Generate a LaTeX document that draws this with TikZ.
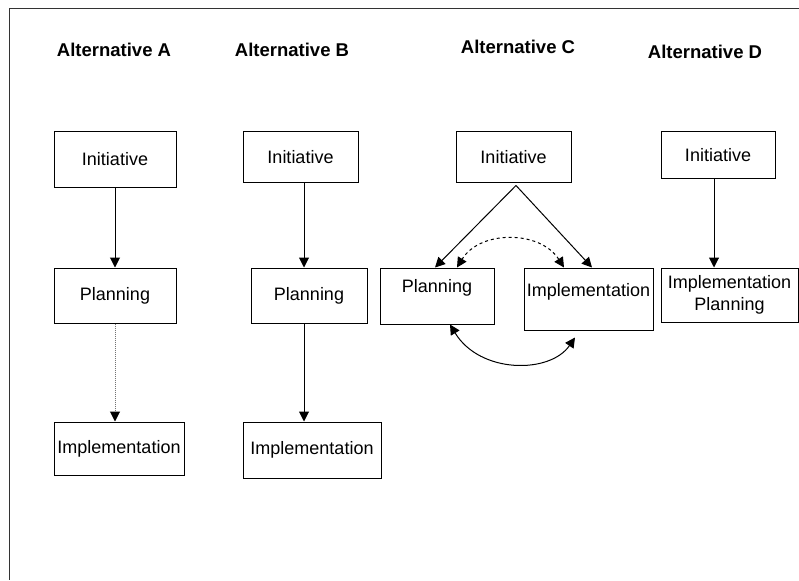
\documentclass[tikz,border=0pt]{standalone}
\usepackage{fontspec}
\setmainfont{Liberation Sans}
\usetikzlibrary{arrows.meta}
\begin{document}
\begin{tikzpicture}[x=1pt,y=-1pt,line width=1pt,
  every node/.style={font=\fontsize{18}{22}\selectfont},
  title/.style={font=\fontsize{18.5}{22}\selectfont\bfseries},
  box/.style={draw,inner xsep=1pt,inner ysep=0pt},
  arr/.style={-{Triangle[width=10pt,length=10pt,black]}},
  both/.style={{Triangle[width=10pt,length=10pt]}-{Triangle[width=10pt,length=10pt]}}]
  \useasboundingbox (0,0) rectangle (799,580);
  \draw[black!80] (799,9) -- (9,9) -- (9,580);

  \node[title] (tA) at (114,50) {Alternative A};
  \node[title] (tB) at (292,50) {Alternative B};
  \node[title] (tC) at (518,47) {Alternative C};
  \node[title] (tD) at (705,52) {Alternative D};

  \node[box,minimum width=122,minimum height=55] (iniA) at (115,159.5) {Initiative};
  \node[box,minimum width=122,minimum height=55] (planA) at (115,295.5) {Planning};
  \node[box,minimum width=130,minimum height=53] (implA) at (119,448.5) {Implementation};
  \draw[arr] (iniA) -- (planA);
  \draw[arr,densely dotted,black!55] (planA.south) -- (planA.south |- implA.north);

  \node[box,minimum width=115,minimum height=50] (iniB) at (300.5,157) {Initiative};
  \node[box,minimum width=116,minimum height=55] (planB) at (309,295.5) {Planning};
  \node[box,minimum width=138,minimum height=56] (implB) at (312,450) {Implementation};
  \draw[arr] ([xshift=3.5]iniB.south) -- ([xshift=3.5]iniB.south |- planB.north);
  \draw[arr] ([xshift=3.5]iniB.south |- planB.south) -- ([xshift=3.5]iniB.south |- implB.north);

  \node[box,minimum width=115,minimum height=50] (iniC) at (513.5,157) {Initiative};
  \node[box,minimum width=114,minimum height=56,text depth=20pt] (planC) at (437,296) {Planning};
  \node[box,minimum width=129,minimum height=62,text depth=18pt] (implC) at (588.5,299) {Implementation};
  \draw[arr] ([xshift=2.5,yshift=-3]iniC.south) -- ([xshift=-2]planC.north);
  \draw[arr] ([xshift=2.5,yshift=-3]iniC.south) -- ([xshift=3.5]implC.north);
  \draw[both,dashed] ([xshift=-24.5]implC.north) .. controls (540,230) and (480,230) .. ([xshift=20]planC.north);
  \draw[both] ([xshift=13]planC.south) .. controls (480,374) and (550,374) .. ([xshift=-13.5,yshift=-7]implC.south);

  \node[box,minimum width=114,minimum height=46] (iniD) at (718,155) {Initiative};
  \node[box,minimum width=137,minimum height=54,align=center] (implD) at (729.5,295) {Implementation\\Planning};
  \draw[arr] ([xshift=-4]iniD.south) -- ([xshift=-4]iniD.south |- implD.north);
\end{tikzpicture}
\end{document}
